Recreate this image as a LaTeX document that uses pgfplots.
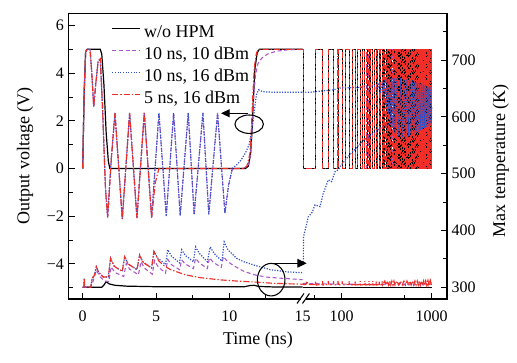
\documentclass[border=0pt]{standalone}
\usepackage{fontspec}
\setmainfont{Liberation Serif}
\usepackage{pgfplots}
\usepackage{pgfplotstable}
\pgfplotsset{compat=1.18}
\usetikzlibrary{arrows.meta}
\definecolor{cpurp}{RGB}{170,85,200}
\definecolor{cblue}{RGB}{45,80,200}
\definecolor{cred}{RGB}{240,45,38}

% output voltage in the log part (black, purple and red coincide there)
\pgfplotstableread[row sep=\\]{
t v\\
35 5\\ 37.5 5\\ 37.5 0\\ 51 0\\ 51 5\\ 61 5\\ 61 0\\ 71 0\\ 71 5\\ 81 5\\ 81 0\\ 91 0\\ 91 5\\ 101 5\\ 101 0\\ 111 0\\ 111 5\\ 121 5\\ 121 0\\ 131 0\\ 131 5\\ 141 5\\ 141 0\\ 151 0\\ 151 5\\ 161 5\\ 161 0\\ 171 0\\ 171 5\\ 181 5\\ 181 0\\ 191 0\\ 191 5\\ 201 5\\ 201 0\\ 211 0\\ 211 5\\ 221 5\\ 221 0\\ 231 0\\ 231 5\\ 241 5\\ 241 0\\ 251 0\\ 251 5\\ 261 5\\ 261 0\\ 271 0\\ 271 5\\ 281 5\\ 281 0\\ 291 0\\ 291 5\\
301 5\\ 301 0\\ 311 0\\ 311 5\\ 321 5\\ 321 0\\ 331 0\\ 331 5\\ 341 5\\ 341 0\\ 351 0\\ 351 5\\ 361 5\\ 361 0\\ 371 0\\ 371 5\\ 381 5\\ 381 0\\ 391 0\\ 391 5\\
401 5\\ 401 0\\ 411 0\\ 411 5\\ 421 5\\ 421 0\\ 431 0\\ 431 5\\ 441 5\\ 441 0\\ 451 0\\ 451 5\\ 461 5\\ 461 0\\ 471 0\\ 471 5\\ 481 5\\ 481 0\\ 491 0\\ 491 5\\
501 5\\ 501 0\\ 511 0\\ 511 5\\ 521 5\\ 521 0\\ 531 0\\ 531 5\\ 541 5\\ 541 0\\ 551 0\\ 551 5\\ 561 5\\ 561 0\\ 571 0\\ 571 5\\ 581 5\\ 581 0\\ 591 0\\ 591 5\\
601 5\\ 601 0\\ 611 0\\ 611 5\\ 621 5\\ 621 0\\ 631 0\\ 631 5\\ 641 5\\ 641 0\\ 651 0\\ 651 5\\ 661 5\\ 661 0\\ 671 0\\ 671 5\\ 681 5\\ 681 0\\ 691 0\\ 691 5\\
701 5\\ 701 0\\ 711 0\\ 711 5\\ 721 5\\ 721 0\\ 731 0\\ 731 5\\ 741 5\\ 741 0\\ 751 0\\ 751 5\\ 761 5\\ 761 0\\ 771 0\\ 771 5\\ 781 5\\ 781 0\\ 791 0\\ 791 5\\
801 5\\ 801 0\\ 811 0\\ 811 5\\ 821 5\\ 821 0\\ 831 0\\ 831 5\\ 841 5\\ 841 0\\ 851 0\\ 851 5\\ 861 5\\ 861 0\\ 871 0\\ 871 5\\ 881 5\\ 881 0\\ 891 0\\ 891 5\\
901 5\\ 901 0\\ 911 0\\ 911 5\\ 921 5\\ 921 0\\ 931 0\\ 931 5\\ 941 5\\ 941 0\\ 951 0\\ 951 5\\ 961 5\\ 961 0\\ 971 0\\ 971 5\\ 981 5\\ 981 0\\ 991 0\\ 991 5\\ 1000 5\\
}\clockwave

\pgfplotsset{
 base/.style={scale only axis, axis line style={draw=none}, tick align=inside,
   major tick length=4.5pt, minor tick length=3pt, tick style={black, line width=0.7pt},
   tick label style={font=\fontsize{12}{14}\selectfont},
   height=214.125pt},
 lin/.style={base, width=175.575pt, xmin=-0.969, xmax=15, at={(0pt,0pt)}, anchor=south west},
 lg/.style={base, width=108.3pt, xmin=36.8, xmax=1479, at={(175.575pt,0pt)}, anchor=south west},
 volt/.style={ymin=-5.476, ymax=6.504},
 temp/.style={ymin=279.4, ymax=781.8},
 sblack/.style={black, line width=0.9pt},
 spurp/.style={cpurp, line width=0.8pt, dash pattern=on 3pt off 2pt},
 sblue/.style={cblue, line width=0.9pt, dash pattern=on 0.9pt off 1.1pt},
 sred/.style={cred, line width=0.85pt, dash pattern=on 4.5pt off 1.5pt on 1pt off 1.5pt},
}

\begin{document}
\begin{tikzpicture}
% ---------- linear part, voltage ----------
\begin{axis}[lin, volt, name=A1,
  xtick={0,5,10}, xticklabels={0,5,10}, minor xtick={2.5,7.5,12.5},
  extra x ticks={15}, extra x tick labels={15}, extra x tick style={major tick length=0pt},
  xtick pos=bottom, xticklabel style={yshift=-5.6pt},
  ytick={-4,-2,0,2,4,6}, yticklabels={−4,−2,0,2,4,6}, minor ytick={-5,-3,-1,1,3,5},
  ytick pos=left,
  ylabel={Output voltage (V)},
  every axis y label/.style={at={(axis description cs:-0.1666,0.5009)}, rotate=90, anchor=base, font=\fontsize{13.5}{16}\selectfont},
  xlabel={Time (ns)},
  every axis x label/.style={at={(axis description cs:0.8095,-0.1611)}, anchor=base, font=\fontsize{13.5}{16}\selectfont},
  legend style={draw=none, fill=none, inner sep=0pt, outer sep=0pt,
    at={(axis description cs:0.1845,0.9593)}, anchor=north west,
    row sep=4.6pt, column sep=2.5pt, font=\fontsize{13.5}{16}\selectfont,
    nodes={inner sep=0pt, text height=9pt, text depth=3pt}},
  legend cell align=left,
  legend image code/.code={\draw[#1] (0pt,3.75pt) -- (21pt,3.75pt);},
]
\addplot[sblack] coordinates {(0,0)(0.1,3.2)(0.2,4.9)(0.3,5)(1.2,5)(1.3,4.8)(1.45,3.5)(1.6,1.5)(1.75,0.3)(1.85,0)(11.1,0)(11.3,0.1)(11.45,0.6)(11.55,1.6)(11.65,3.0)(11.75,4.2)(11.9,4.85)(12.05,5)(15.5,5)};
\addlegendentry{w/o HPM}
\addplot[spurp] coordinates {(0,0)(0.1,3.2)(0.2,4.9)(0.3,5)(0.5,5)(0.62,4)(0.75,2.6)(0.9,3.6)(1.05,4.5)(1.2,4.6)(1.35,2.6)(1.55,-0.8)(1.7,-2.05)(1.95,0.4)(2.2,2.33)(2.7,-2.12)(3.2,2.33)(3.7,-2.08)(4.2,2.33)(4.7,-2.06)(5.2,2.33)(5.7,-2.0)(6.2,2.33)(6.65,-1.97)(7.2,2.33)(7.6,-1.94)(8.2,2.33)(8.6,-1.92)(9.2,2.33)(9.7,-1.88)(9.95,-0.7)(10.2,-0.05)(10.5,0)(11.0,0.02)(11.3,0.12)(11.45,0.6)(11.55,1.6)(11.65,2.9)(11.78,3.9)(11.95,4.4)(12.2,4.62)(12.6,4.8)(13.2,4.92)(14,4.98)(15.5,5.0)};
\addlegendentry{10 ns, 10 dBm}
\addplot[sblue] coordinates {(0,0)(0.1,3.2)(0.2,4.9)(0.3,5)(0.5,5)(0.62,4)(0.75,2.6)(0.9,3.6)(1.05,4.5)(1.2,4.6)(1.35,2.6)(1.55,-0.8)(1.7,-2.05)(1.95,0.4)(2.2,2.33)(2.7,-2.12)(3.2,2.33)(3.7,-2.08)(4.2,2.33)(4.7,-2.06)(5.2,2.33)(5.7,-2.0)(6.2,2.33)(6.65,-1.97)(7.2,2.33)(7.6,-1.94)(8.2,2.33)(8.6,-1.92)(9.2,2.33)(9.7,-1.88)(9.95,-0.7)(10.2,0)(10.5,0.15)(10.8,0.35)(11.1,0.65)(11.35,1.0)(11.55,1.6)(11.7,2.4)(11.85,3.1)(12.0,3.3)(12.3,3.22)(13,3.2)(15.5,3.2)};
\addlegendentry{10 ns, 16 dBm}
\addplot[sred] coordinates {(0,0)(0.1,3.2)(0.2,4.9)(0.3,5)(0.5,5)(0.62,4)(0.75,2.6)(0.9,3.6)(1.05,4.5)(1.2,4.6)(1.35,2.6)(1.55,-0.8)(1.7,-2.05)(1.95,0.4)(2.2,2.33)(2.7,-2.12)(3.2,2.33)(3.7,-2.08)(4.2,2.33)(4.7,-2.06)(4.95,-0.6)(5.2,0)(5.5,0)(11.0,0)(11.2,0.1)(11.4,0.6)(11.5,1.6)(11.6,3.0)(11.7,4.2)(11.85,4.85)(12.0,5)(15.5,5)};
\addlegendentry{5 ns, 16 dBm}
\end{axis}
% ---------- linear part, temperature ----------
\begin{axis}[lin, temp, xtick=\empty, ytick=\empty]
\addplot[sblack] coordinates {(0,300)(1.3,300)(1.45,304)(1.6,310)(1.8,306)(2.2,303.5)(3,302)(5,301)(11,300.8)(11.4,303)(11.7,303.5)(12,301.5)(13,300.6)(15.5,300.4)};
\addplot[spurp] coordinates {(0,300)(0.55,300)(0.7,310)(0.93,330)(1.2,318)(1.5,311)(1.78,310)(1.94,336)(2.2,326)(2.8,319)(2.97,342)(3.2,332)(3.8,322)(3.98,345)(4.2,334)(4.75,323)(4.9,347)(5.15,336)(5.65,325)(5.8,349)(6.05,340)(6.6,331)(6.75,348)(7.0,341)(7.55,333)(7.7,351)(7.95,343)(8.5,333)(8.65,352)(8.9,344)(9.45,335)(9.6,354)(9.85,346)(10.3,338)(11,328)(11.7,322)(12.5,318)(13.5,316)(15.5,312.5)};
\addplot[sblue] coordinates {(0,300)(0.08,300)(0.1,316)(0.14,300.5)(0.55,300.5)(0.65,316)(0.78,320)(0.93,336)(1.1,326)(1.4,318)(1.75,318)(1.9,351)(2.15,337)(2.7,328)(2.86,354)(3.1,341)(3.7,331)(3.88,357)(4.1,345)(4.7,334)(4.86,363)(5.1,352)(5.65,340)(5.8,366)(6.05,355)(6.6,343)(6.75,366)(7.0,356)(7.55,345)(7.7,371)(7.95,360)(8.5,345)(8.7,371)(8.95,360)(9.5,346)(9.65,380)(9.9,366)(10.5,351)(11,345)(11.7,339)(12.8,331)(14,327)(15.5,325)};
\addplot[sred] coordinates {(0,300)(0.08,300)(0.1,316)(0.14,300.5)(0.55,300.5)(0.65,316)(0.78,320)(0.93,336)(1.1,326)(1.4,318)(1.75,318)(1.9,351)(2.15,337)(2.7,328)(2.86,354)(3.1,341)(3.7,331)(3.88,356)(4.1,344)(4.7,334)(4.86,363)(5.2,346)(5.6,337)(6,331)(7,322)(8,317)(9.4,313)(10.5,311)(11.9,309)(13,307)(15.5,305)};
\end{axis}
% ---------- log part, voltage ----------
\begin{semilogxaxis}[lg, volt, xtick={100,1000}, xticklabels={100,1000}, minor xtick={50,500},
  xtick pos=bottom, xticklabel style={yshift=-5.6pt}, ytick=\empty]
\addplot[spurp] table[x=t, y=v] {\clockwave};
\addplot[sblack, line width=0.6pt] table[x=t, y=v] {\clockwave};
\addplot[sred] table[x=t, y=v] {\clockwave};
\addplot[sblue] coordinates {(36.8,3.2)(45,3.2)(60,3.25)(80,3.3)(95,3.38)(150,3.4)(200,3.43)(230,3.48)(250,3.3)(261,3.6)(271,3.15)(281,3.65)(291,2.9)(301,3.7)(311,2.6)(321,3.75)(331,2.3)(341,3.8)(351,2.0)(361,3.8)(371,1.7)(381,3.8)(391,1.5)(411,3.8)(431,1.35)(451,3.8)(471,1.3)(491,3.75)(511,1.3)(531,3.75)(551,1.35)(571,3.7)(591,1.4)(611,3.7)(631,1.45)(651,3.65)(671,1.5)(691,3.6)(711,1.55)(731,3.6)(751,1.6)(771,3.55)(791,1.65)(811,3.5)(831,1.7)(851,3.5)(871,1.75)(891,3.45)(911,1.8)(931,3.4)(951,1.85)(971,3.4)(991,1.9)(1000,2.6)};
\end{semilogxaxis}
% ---------- log part, temperature ----------
\begin{semilogxaxis}[lg, temp, xtick=\empty,
  ytick={300,400,500,600,700}, yticklabels={300,400,500,600,700},
  minor ytick={350,450,550,650,750}, ytick pos=right, yticklabel pos=right,
  ylabel={Max temperature (K)},
  every axis y label/.style={at={(axis description cs:1.4019,0.4844)}, rotate=90, anchor=base, font=\fontsize{13.5}{16}\selectfont}]
\addplot[sblack] coordinates {(36.8,300.3)(1000,300.3)};
\addplot[spurp] coordinates {(36.8,307)(60,306)(100,305.5)(200,305)(300,305)(320,308)(340,304)(360,308)(380,304)(400,308)(430,304)(460,308)(490,304)(520,308)(560,304)(600,308)(640,304)(680,308)(720,304)(760,308)(800,304)(850,308)(900,304)(950,308)(1000,305)};
\addplot[sred] coordinates {(36.8,305)(40,305)(41,311)(42,305)(51,305)(51,311)(52,304)(61,305)(61,311)(62,304)(71,305)(71,311)(72,304)(81,305)(81,311)(82,304)(91,305)(91,311)(92,304)(101,305)(101,311)(102,304)(121,305)(121,311)(122,304)(141,305)(141,311)(142,304)(161,305)(161,311)(162,304)(181,305)(181,311)(183,304)(201,305)(201,311)(203,304)(221,305)(221,311)(223,304)(241,305)(241,311)(243,304)(261,305)(261,311)(263,304)(281,305)(281,311)(284,304)(301,311)(311,304)(321,311)(331,304)(341,311)(351,304)(361,311)(371,304)(381,311)(391,304)(411,311)(431,304)(451,311)(471,304)(491,311)(511,304)(531,311)(551,304)(571,311)(591,304)(611,311)(631,304)(651,311)(671,304)(691,311)(711,304)(731,311)(751,304)(771,311)(791,304)(811,311)(831,304)(851,311)(871,304)(891,311)(911,304)(931,311)(951,304)(971,311)(991,304)(1000,308)};
\addplot[sblue] coordinates {(36.8,340)(37.5,342)(37.6,388)(42.6,424)(47,432)(50.6,445)(57.4,442)(62.4,465)(71,489)(77.4,486)(84,503)(92,507)(100,516)(115,528)(130,537)(150,548)(180,560)(220,570)(270,580)(330,587)(400,592)(500,596)(650,598)(800,600)(1000,600)};
\end{semilogxaxis}
% ---------- frame, axis break and annotations ----------
\draw[line width=0.9pt] (174.0pt,0pt) -- (0pt,0pt) -- (0pt,214.125pt) -- (283.875pt,214.125pt) -- (283.875pt,0pt) -- (178.1pt,0pt);
\draw[line width=0.8pt] (171.4pt,-3.35pt) -- (176.6pt,4.15pt);
\draw[line width=0.8pt] (175.5pt,-3.35pt) -- (180.7pt,4.15pt);
\draw[line width=0.8pt] (135.5pt,131.1pt) ellipse [x radius=10.65pt, y radius=6.9pt];
\draw[line width=0.8pt, -{Triangle[length=6.5pt,width=6pt]}] (134.6pt,139.3pt) -- (114.4pt,139.3pt);
\draw[line width=0.8pt] (152.0pt,14.5pt) ellipse [x radius=10.35pt, y radius=12.2pt];
\draw[line width=0.8pt, -{Triangle[length=7pt,width=6.5pt]}] (152.4pt,26.8pt) -- (178.65pt,26.8pt);
\pgfresetboundingbox
\path (-51.375pt,-48pt) rectangle (336.375pt,224.25pt);
\end{tikzpicture}
\end{document}
